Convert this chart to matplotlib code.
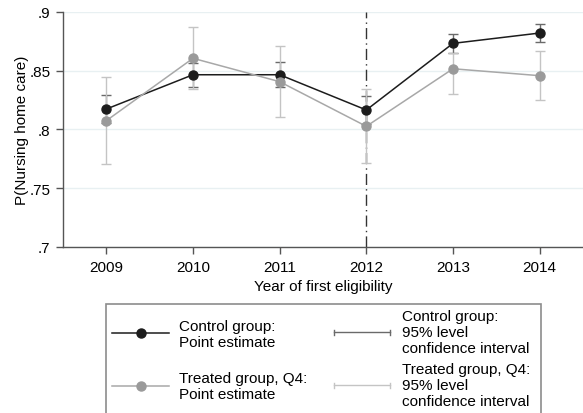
import matplotlib
matplotlib.use("Agg")
import matplotlib.pyplot as plt
from matplotlib.lines import Line2D
from matplotlib.patches import Rectangle

plt.rcParams["font.family"] = ["Liberation Sans", "DejaVu Sans"]

# Estimates by year of first eligibility
years = [2009, 2010, 2011, 2012, 2013, 2014]
control_est = [0.8174, 0.8466, 0.8466, 0.8166, 0.8733, 0.8821]
control_lo = [0.8052, 0.8365, 0.8358, 0.8050, 0.8648, 0.8748]
control_hi = [0.8296, 0.8567, 0.8574, 0.8283, 0.8813, 0.8898]
treated_est = [0.8075, 0.8606, 0.8407, 0.8027, 0.8517, 0.8458]
treated_lo = [0.7704, 0.8345, 0.8106, 0.7715, 0.8302, 0.8251]
treated_hi = [0.8447, 0.8875, 0.8710, 0.8345, 0.8650, 0.8666]

yticks = [0.7, 0.75, 0.8, 0.85, 0.9]
ytick_labels = [".7", ".75", ".8", ".85", ".9"]
cutoff_year = 2012

point_labels = ["Control group:\nPoint estimate",
                "Treated group, Q4:\nPoint estimate"]
ci_labels = ["Control group:\n95% level\nconfidence interval",
             "Treated group, Q4:\n95% level\nconfidence interval"]

dark = "#1c1c1c"
light = "#9a9a9a"
light_line = "#a8a8a8"
ci_dark = "#6a6a6a"
ci_light = "#c4c4c4"
FS = 11

W, H = 583, 414
fig = plt.figure(figsize=(W / 100, H / 100), dpi=100)
ax = fig.add_axes([63 / W, 1 - 248 / H, 520 / W, 235 / H])

for y in yticks:
    ax.axhline(y, color="#e8f0f2", lw=1, zorder=0)

ax.axvline(cutoff_year, color="#333333", lw=1, ls=(0, (8, 3, 1, 3)), zorder=1)

ctrl_err = [[e - l for e, l in zip(control_est, control_lo)],
            [h - e for e, h in zip(control_est, control_hi)]]
treat_err = [[e - l for e, l in zip(treated_est, treated_lo)],
             [h - e for e, h in zip(treated_est, treated_hi)]]

ax.errorbar(years, control_est, yerr=ctrl_err, fmt="none", ecolor=ci_dark,
            elinewidth=1, capsize=3.5, capthick=1, zorder=2)
ax.errorbar(years, treated_est, yerr=treat_err, fmt="none", ecolor=ci_light,
            elinewidth=1, capsize=3.5, capthick=1, zorder=2)

ax.plot(years, control_est, color=dark, lw=1.1, marker="o",
        ms=6.5, mfc=dark, mec=dark, zorder=3)
ax.plot(years, treated_est, color=light_line, lw=1.1, marker="o",
        ms=6.5, mfc=light, mec=light, zorder=4)

ax.set_xlim(2008.5, 2014.5)
ax.set_ylim(0.7, 0.9)
ax.set_xticks(years)
ax.set_xticklabels([str(y) for y in years], fontsize=FS)
ax.set_yticks(yticks)
ax.set_yticklabels(ytick_labels, fontsize=FS)
ax.tick_params(axis="both", direction="out", length=5, width=1,
               color="#555555", pad=4)

for side in ["top", "right"]:
    ax.spines[side].set_visible(False)
for side in ["left", "bottom"]:
    ax.spines[side].set_color("#555555")
    ax.spines[side].set_linewidth(1)

ax.set_xlabel("Year of first eligibility", fontsize=FS, labelpad=4)
ax.set_ylabel("P(Nursing home care)", fontsize=FS, labelpad=0.5)


# legend box below the plot, laid out in pixel units
def fx(px):
    return px / W


def fy(py):
    return 1 - py / H


tf = fig.transFigure
fig.add_artist(Rectangle((fx(105.7), fy(425)), fx(541) - fx(105.7),
                         fy(305) - fy(425), transform=tf, fill=False,
                         edgecolor="#8c8c8c", lw=1.2))

row_y = [334, 387]
# baseline of the last line of each label
point_base = [347.3, 399.5]
ci_base = [353.3, 406]
point_colors = [dark, light]
point_line_colors = [dark, light_line]
ci_colors = [ci_dark, ci_light]

for i in range(2):
    yk = fy(row_y[i])
    fig.add_artist(Line2D([fx(111.7), fx(169.3)], [yk, yk], transform=tf,
                          color=point_line_colors[i], lw=1.1))
    fig.add_artist(Line2D([fx(140.7)], [yk], transform=tf, marker="o", ms=6.5,
                          color=point_colors[i], lw=0))
    fig.text(fx(179), fy(point_base[i]), point_labels[i], fontsize=FS,
             va="baseline", ha="left", linespacing=1.2)

    yc = fy(row_y[i] - 0.7)
    cap = 2.7 / H
    for xs, ys in [([fx(333.5), fx(390)], [yc, yc]),
                   ([fx(333.5), fx(333.5)], [yc - cap, yc + cap]),
                   ([fx(390), fx(390)], [yc - cap, yc + cap])]:
        fig.add_artist(Line2D(xs, ys, transform=tf, color=ci_colors[i], lw=1))
    fig.text(fx(401.5), fy(ci_base[i]), ci_labels[i], fontsize=FS,
             va="baseline", ha="left", linespacing=1.2)

fig.savefig("out.png", dpi=100)
